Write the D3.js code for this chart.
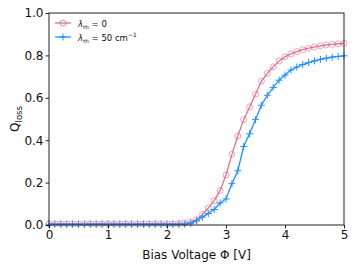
<!DOCTYPE html>
<html>
<head>
<meta charset="utf-8">
<script src="https://cdn.jsdelivr.net/npm/d3@7"></script>
<style>
  body { margin: 0; background: #fff; }
  text { font-family: "DejaVu Sans", sans-serif; }
</style>
</head>
<body>
<div id="root"></div>
<script>
// bias voltage samples, 0.0 .. 5.0 step 0.1
var voltages = [0.0,0.1,0.2,0.3,0.4,0.5,0.6,0.7,0.8,0.9,1.0,1.1,1.2,1.3,1.4,1.5,1.6,1.7,1.8,1.9,
  2.0,2.1,2.2,2.3,2.4,2.5,2.6,2.7,2.8,2.9,3.0,3.1,3.2,3.3,3.4,3.5,3.6,3.7,3.8,3.9,
  4.0,4.1,4.2,4.3,4.4,4.5,4.6,4.7,4.8,4.9,5.0];

// lambda_m = 0
var qLossZero = [0.006,0.006,0.006,0.006,0.006,0.006,0.006,0.006,0.006,0.006,0.006,0.006,0.006,0.006,0.006,0.006,0.006,0.006,0.006,0.006,
  0.006,0.006,0.007,0.009,0.014,0.025,0.05,0.08,0.115,0.163,0.236,0.333,0.42,0.497,0.557,0.617,0.678,0.715,0.746,0.774,
  0.793,0.807,0.818,0.827,0.834,0.84,0.845,0.849,0.852,0.855,0.857];

// lambda_m = 50 cm^-1
var qLossFifty = [0.003,0.003,0.003,0.003,0.003,0.003,0.003,0.003,0.003,0.003,0.003,0.003,0.003,0.003,0.003,0.003,0.003,0.003,0.003,0.003,
  0.003,0.003,0.003,0.004,0.008,0.02,0.037,0.054,0.073,0.104,0.123,0.195,0.256,0.37,0.43,0.497,0.565,0.612,0.649,0.683,
  0.707,0.731,0.745,0.757,0.766,0.774,0.781,0.787,0.792,0.795,0.798];

var xTicks = [0, 1, 2, 3, 4, 5];
var yTicks = [0.0, 0.2, 0.4, 0.6, 0.8, 1.0];

var W = 357, H = 268;
var margin = { left: 49, right: 13, top: 13, bottom: 43 };

var svg = d3.select('#root')
  .append('svg')
    .attr('width', W)
    .attr('height', H);

var x = d3.scaleLinear()
  .domain([0, 5])
  .range([margin.left, W - margin.right]);

var y = d3.scaleLinear()
  .domain([0, 1])
  .range([H - margin.bottom, margin.top]);

var pink = '#db7093';
var blue = '#1e90ff';

var seriesA = voltages.map((v, i) => ({ v: v, q: qLossZero[i] }));
var seriesB = voltages.map((v, i) => ({ v: v, q: qLossFifty[i] }));

var line = d3.line()
  .x(d => x(d.v))
  .y(d => y(d.q));

var plot = svg.append('g');

// pink curve with open circles
plot.append('path')
  .datum(seriesA)
  .attr('fill', 'none')
  .attr('stroke', pink)
  .attr('stroke-width', 1.3)
  .attr('d', line);

plot.selectAll('circle.a')
  .data(seriesA)
  .enter()
  .append('circle')
    .attr('class', 'a')
    .attr('cx', d => x(d.v))
    .attr('cy', d => y(d.q))
    .attr('r', 3)
    .attr('fill', 'none')
    .attr('stroke', pink)
    .attr('stroke-width', 0.8)
    .attr('opacity', 0.8);

// blue curve with plus markers
plot.append('path')
  .datum(seriesB)
  .attr('fill', 'none')
  .attr('stroke', blue)
  .attr('stroke-width', 1.3)
  .attr('d', line);

plot.selectAll('path.b')
  .data(seriesB)
  .enter()
  .append('path')
    .attr('class', 'b')
    .attr('d', d => {
      var cx = x(d.v), cy = y(d.q);
      return 'M' + (cx - 3.5) + ',' + cy + 'H' + (cx + 3.5) +
             'M' + cx + ',' + (cy - 3.5) + 'V' + (cy + 3.5);
    })
    .attr('stroke', blue)
    .attr('stroke-width', 1);

// frame
svg.append('rect')
  .attr('x', margin.left)
  .attr('y', margin.top)
  .attr('width', W - margin.left - margin.right)
  .attr('height', H - margin.top - margin.bottom)
  .attr('fill', 'none')
  .attr('stroke', '#222')
  .attr('stroke-width', 1);

// axes
var xAxis = svg.append('g')
  .attr('transform', 'translate(0,' + (H - margin.bottom) + ')')
  .call(d3.axisBottom(x).tickValues(xTicks).tickFormat(d3.format('d')).tickSize(3.5).tickPadding(2));

var yAxis = svg.append('g')
  .attr('transform', 'translate(' + margin.left + ',0)')
  .call(d3.axisLeft(y).tickValues(yTicks).tickFormat(d3.format('.1f')).tickSize(3.5).tickPadding(2));

[xAxis, yAxis].forEach(a => {
  a.select('.domain').remove();
  a.selectAll('text')
    .attr('font-family', 'DejaVu Sans')
    .attr('font-size', 12)
    .attr('fill', '#111');
  a.selectAll('line').attr('stroke', '#222');
});

// axis titles
svg.append('text')
  .attr('x', x(2.5))
  .attr('y', 259)
  .attr('text-anchor', 'middle')
  .attr('font-size', 12)
  .attr('fill', '#111')
  .text('Bias Voltage Φ [V]');

var yl = svg.append('text')
  .attr('transform', 'translate(19,' + y(0.5) + ') rotate(-90)')
  .attr('text-anchor', 'middle')
  .attr('font-size', 12)
  .attr('fill', '#111');
yl.append('tspan').text('Q');
yl.append('tspan').attr('font-size', 8.5).attr('dy', 3).text('loss');

// legend
var legend = svg.append('g').attr('transform', 'translate(55,23)');

legend.append('line')
  .attr('x1', 0).attr('x2', 16).attr('y1', 0).attr('y2', 0)
  .attr('stroke', pink).attr('stroke-width', 1.3);
legend.append('circle')
  .attr('cx', 8).attr('cy', 0).attr('r', 3)
  .attr('fill', 'none').attr('stroke', pink).attr('stroke-width', 0.8);

legend.append('line')
  .attr('x1', 0).attr('x2', 16).attr('y1', 14).attr('y2', 14)
  .attr('stroke', blue).attr('stroke-width', 1.3);
legend.append('path')
  .attr('d', 'M4.5,14H11.5M8,10.5V17.5')
  .attr('stroke', blue).attr('stroke-width', 1);

var t1 = legend.append('text')
  .attr('x', 23).attr('y', 3.5)
  .attr('font-size', 8.5).attr('fill', '#111');
t1.append('tspan').attr('font-style', 'italic').text('λ');
t1.append('tspan').attr('font-size', 6).attr('dy', 2).text('m');
t1.append('tspan').attr('dy', -2).text(' = 0');

var t2 = legend.append('text')
  .attr('x', 23).attr('y', 17.5)
  .attr('font-size', 8.5).attr('fill', '#111');
t2.append('tspan').attr('font-style', 'italic').text('λ');
t2.append('tspan').attr('font-size', 6).attr('dy', 2).text('m');
t2.append('tspan').attr('dy', -2).text(' = 50 cm');
t2.append('tspan').attr('font-size', 6).attr('dy', -3.5).text('−1');
</script>
</body>
</html>
